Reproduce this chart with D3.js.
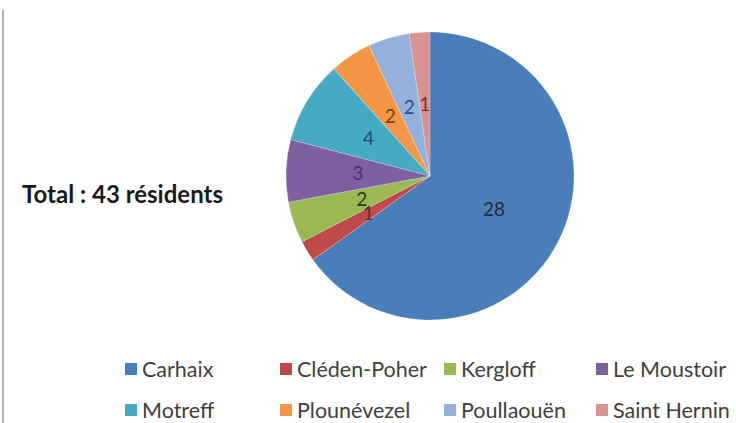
<!DOCTYPE html>
<html>
<head>
<meta charset="utf-8">
<script src="https://cdn.jsdelivr.net/npm/d3@7"></script>
<style>
  html, body { margin: 0; padding: 0; background: #fff; }
  svg { display: block; }
</style>
</head>
<body>
<svg id="chart" width="736" height="423"></svg>
<script>
const categories = ["Carhaix", "Cléden-Poher", "Kergloff", "Le Moustoir", "Motreff", "Plounévezel", "Poullaouën", "Saint Hernin"];
const values = [28, 1, 2, 3, 4, 2, 2, 1];
const colors = ["#4A7EBB", "#BE4B48", "#98B954", "#7D60A0", "#46AAC5", "#F59647", "#93B1DA", "#D99391"];
const labelColors = ["#2a2a3a", "#7a2222", "#2f3d14", "#4a3270", "#1f4f6e", "#7a4210", "#2f4f8a", "#7a2a2a"];
const totalText = "Total : 43 résidents";

const svg = d3.select("#chart");

// left border line
svg.append("line").attr("x1", 3).attr("x2", 3).attr("y1", 10).attr("y2", 423)
  .attr("stroke", "#b0b0b0").attr("stroke-width", 2);

const cx = 430, cy = 176, r = 144;
const pie = d3.pie().sort(null).value(d => d)(values);
const arc = d3.arc().innerRadius(0).outerRadius(r);
const labelArc = d3.arc().innerRadius(r * 0.5).outerRadius(r * 0.5);

const g = svg.append("g").attr("transform", `translate(${cx},${cy})`);
g.selectAll("path").data(pie).join("path")
  .attr("d", arc)
  .attr("fill", (d, i) => colors[i])
  .attr("stroke", "rgba(255,255,255,0.35)")
  .attr("stroke-width", 0.6);

g.selectAll("text").data(pie).join("text")
  .attr("transform", d => `translate(${labelArc.centroid(d)})`)
  .attr("text-anchor", "middle")
  .attr("dy", "0.35em")
  .attr("font-family", "Lato, 'Open Sans', sans-serif")
  .attr("font-size", 19)
  .attr("fill", (d, i) => labelColors[i])
  .text(d => d.data);

// total text
svg.append("text").attr("x", 22).attr("y", 203)
  .attr("font-family", "Lato, 'Open Sans', sans-serif")
  .attr("font-weight", "bold")
  .attr("font-size", 24)
  .attr("fill", "#1a1a1a")
  .text(totalText);

// legend
const colX = [125, 280, 444, 596];
const rowY = [369, 410];
const leg = svg.append("g");
categories.forEach((c, i) => {
  const x = colX[i % 4], y = rowY[Math.floor(i / 4)];
  leg.append("rect").attr("x", x).attr("y", y - 6).attr("width", 12).attr("height", 12)
    .attr("fill", colors[i]);
  leg.append("text").attr("x", x + 17).attr("y", y).attr("dy", "0.35em")
    .attr("font-family", "Lato, 'Open Sans', sans-serif")
    .attr("font-size", 21.5)
    .attr("fill", "#404040")
    .text(c);
});
</script>
</body>
</html>
